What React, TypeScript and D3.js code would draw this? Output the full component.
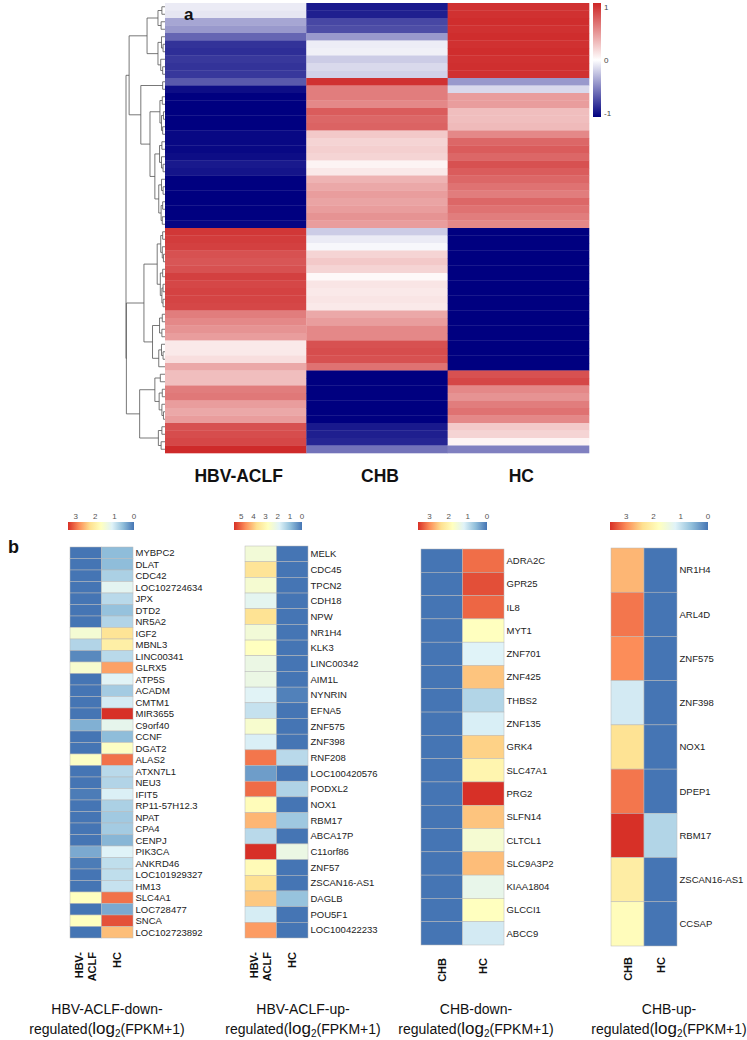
import React from 'react';
import * as d3 from 'd3';

// ---------- Panel a data (row z-scores) ----------
const groupsA = ['HBV-ACLF', 'CHB', 'HC'];
const hbvZ = [-0.08, -0.1, -0.35, -0.4, -0.6, -0.8, -0.82, -0.78, -0.8, -0.78,
  -0.65, -0.95, -1, -1, -1, -1, -1, -0.97, -0.97, -0.97,
  -0.95, -0.9, -0.92, -1, -1, -1, -1, -1, -1, -0.98,
  0.92, 0.9, 0.88, 0.8, 0.78, 0.8, 0.88, 0.85, 0.87, 0.86,
  0.85, 0.6, 0.55, 0.5, 0.45, 0.1, 0.1, 0.15, 0.4, 0.3,
  0.3, 0.6, 0.62, 0.45, 0.4, 0.45, 0.8, 0.82, 0.85, 0.98];
const chbZ = [-0.9, -0.88, -0.72, -0.7, -0.4, -0.07, -0.06, -0.2, -0.15, -0.18,
  0.95, 0.6, 0.6, 0.55, 0.75, 0.7, 0.72, 0.25, 0.2, 0.22,
  0.2, 0.05, 0.1, 0.35, 0.4, 0.45, 0.42, 0.45, 0.5, 0.45,
  -0.2, -0.08, -0.03, 0.2, 0.25, 0.2, 0.03, 0.12, 0.1, 0.12,
  0.1, 0.4, 0.45, 0.55, 0.55, 0.8, 0.82, 0.8, 0.65, -1,
  -1, -1, -1, -1, -1, -1, -0.9, -0.88, -0.85, -0.55];
const hcZ = [0.95, 0.95, 0.97, 0.95, 0.97, 0.95, 0.97, 0.95, 0.96, 0.95,
  -0.4, -0.15, 0.45, 0.45, 0.3, 0.3, 0.32, 0.55, 0.7, 0.75,
  0.7, 0.8, 0.75, 0.7, 0.65, 0.6, 0.7, 0.65, 0.6, 0.55,
  -1, -1, -1, -1, -1, -1, -1, -1, -1, -1,
  -1, -1, -1, -1, -1, -1, -1, -1, -1,
  0.8, 0.85, 0.55, 0.5, 0.6, 0.65, 0.55, 0.25, 0.2, 0.05, -0.5];
const colorbarTicks = [1, 0, -1];

// dendrogram: [height, left, right], leaves are row indices
type TNode = number | [number, TNode, TNode];
const dendro: TNode = [10,
  [9.2,
    [4.6,
      [1.8, [0.8, 0, 1], [1.0, 2, 3]],
      [1.8, [0.9, 4, [0.5, 5, 6]], [1.1, 7, [0.6, 8, 9]]]],
    [6.2,
      [0.6, 10, 11],
      [3.85,
        [1.3, [0.7, 12, 13], [0.9, [0.4, 14, 15], [0.6, 16, 17]]],
        [2.6, [1.4, [0.8, 18, 19], [0.9, 20, [0.5, 21, 22]]],
          [1.6, [0.9, 23, [0.5, 24, 25]], [1.0, [0.6, 26, 27], [0.7, 28, 29]]]]]]],
  [9.9,
    [5.4,
      [2.0, [1.1, [0.6, 30, 31], [0.7, 32, [0.4, 33, 34]]], [1.2, [0.6, 35, 36], [0.8, [0.5, 37, 38], [0.5, 39, 40]]]],
      [3.2, [1.4, [0.7, 41, 42], [0.8, 43, 44]], [1.6, [0.9, 45, [0.5, 46, 47]], 48]]],
    [6.5,
      [2.6, [1.2, 49, 50], [1.5, [0.7, 51, 52], [0.8, 53, [0.4, 54, 55]]]],
      [1.7, [0.8, 56, 57], [1.0, 58, 59]]]]];

// ---------- Panel b data (log2(FPKM+1)) ----------
const p1Genes = ['MYBPC2', 'DLAT', 'CDC42', 'LOC102724634', 'JPX', 'DTD2', 'NR5A2', 'IGF2', 'MBNL3', 'LINC00341', 'GLRX5', 'ATP5S', 'ACADM', 'CMTM1', 'MIR3655', 'C9orf40', 'CCNF', 'DGAT2', 'ALAS2', 'ATXN7L1', 'NEU3', 'IFIT5', 'RP11-57H12.3', 'NPAT', 'CPA4', 'CENPJ', 'PIK3CA', 'ANKRD46', 'LOC101929327', 'HM13', 'SLC4A1', 'LOC728477', 'SNCA', 'LOC102723892'];
const p1Aclf = [0, 0, 0, 0, 0, 0, 0, 1.5, 0.8, 0.15, 1.55, 0, 0, 0, 0, 0.45, 0, 0, 1.65, 0, 0, 0.05, 0, 0, 0, 0, 0.4, 0.05, 0, 0, 1.7, 0, 1.7, 0];
const p1Hc = [0.55, 0.55, 0.75, 1.2, 0.85, 0.6, 0.8, 2.2, 2.0, 0.85, 2.7, 1.15, 0.7, 1.05, 3.4, 1.25, 0.55, 1.65, 3.0, 0.85, 0.8, 1.1, 0.75, 0.68, 0.7, 0.5, 1.13, 0.9, 0.9, 0.95, 3.0, 0.4, 3.2, 2.5];
const p1Ticks = [3, 2, 1, 0];

const p2Genes = ['MELK', 'CDC45', 'TPCN2', 'CDH18', 'NPW', 'NR1H4', 'KLK3', 'LINC00342', 'AIM1L', 'NYNRIN', 'EFNA5', 'ZNF575', 'ZNF398', 'RNF208', 'LOC100420576', 'PODXL2', 'NOX1', 'RBM17', 'ABCA17P', 'C11orf86', 'ZNF57', 'ZSCAN16-AS1', 'DAGLB', 'POU5F1', 'LOC100422233'];
const p2Aclf = [2.4, 3.6, 2.5, 2.0, 3.65, 2.4, 2.8, 2.2, 2.2, 1.9, 1.55, 2.55, 1.8, 4.9, 0.5, 5.0, 2.9, 4.2, 1.4, 5.6, 2.95, 3.7, 4.0, 1.75, 4.5];
const p2Hc = [0, 0, 0, 0, 0, 0, 0, 0, 0, 0.15, 0, 0, 0, 1.4, 0, 1.3, 0, 1.1, 0, 2.2, 0, 0, 1.0, 0, 0];
const p2Ticks = [5, 4, 3, 2, 1, 0];

const p3Genes = ['ADRA2C', 'GPR25', 'IL8', 'MYT1', 'ZNF701', 'ZNF425', 'THBS2', 'ZNF135', 'GRK4', 'SLC47A1', 'PRG2', 'SLFN14', 'CLTCL1', 'SLC9A3P2', 'KIAA1804', 'GLCCI1', 'ABCC9'];
const p3Chb = [0, 0, 0, 0, 0, 0, 0, 0, 0, 0, 0, 0, 0, 0, 0, 0, 0];
const p3Hc = [3.2, 3.4, 3.25, 1.8, 1.2, 2.6, 0.85, 1.15, 2.5, 2.0, 3.6, 2.6, 1.6, 2.65, 1.35, 1.8, 1.1];
const p3Ticks = [3, 2, 1, 0];

const p4Genes = ['NR1H4', 'ARL4D', 'ZNF575', 'ZNF398', 'NOX1', 'DPEP1', 'RBM17', 'ZSCAN16-AS1', 'CCSAP'];
const p4Chb = [2.7, 3.15, 3.0, 1.1, 2.35, 3.15, 3.6, 2.15, 1.85];
const p4Hc = [0, 0, 0, 0, 0, 0, 0.85, 0, 0];
const p4Ticks = [3, 2, 1, 0];

const palette = ['#4575B4', '#91BFDB', '#E0F3F8', '#FFFFBF', '#FEE090', '#FC8D59', '#D73027'];
const FONT = '"Liberation Sans", Arial, Helvetica, sans-serif';

type Panel = {
  id: string; genes: string[]; cols: number[][]; colLabels: string[][]; max: number; ticks: number[];
  x0: number; x1: number; top: number; bottom: number; legX0: number; legX1: number;
  labelTop: number; title1: string; titleX: number;
};

const panels: Panel[] = [
  { id: 'p1', genes: p1Genes, cols: [p1Aclf, p1Hc], colLabels: [['HBV-', 'ACLF'], ['HC']], max: 3.4, ticks: p1Ticks,
    x0: 70, x1: 133, top: 547, bottom: 938, legX0: 68, legX1: 134, labelTop: 952, title1: 'HBV-ACLF-down-', titleX: 107 },
  { id: 'p2', genes: p2Genes, cols: [p2Aclf, p2Hc], colLabels: [['HBV-', 'ACLF'], ['HC']], max: 5.6, ticks: p2Ticks,
    x0: 245, x1: 308, top: 546, bottom: 938, legX0: 234, legX1: 302, labelTop: 952, title1: 'HBV-ACLF-up-', titleX: 303 },
  { id: 'p3', genes: p3Genes, cols: [p3Chb, p3Hc], colLabels: [['CHB'], ['HC']], max: 3.6, ticks: p3Ticks,
    x0: 421, x1: 504, top: 549, bottom: 945, legX0: 418, legX1: 487, labelTop: 958, title1: 'CHB-down-', titleX: 476 },
  { id: 'p4', genes: p4Genes, cols: [p4Chb, p4Hc], colLabels: [['CHB'], ['HC']], max: 3.6, ticks: p4Ticks,
    x0: 611, x1: 677, top: 548, bottom: 946, legX0: 610, legX1: 708, labelTop: 957, title1: 'CHB-up-', titleX: 669 },
];

function PanelB({ p }: { p: Panel }) {
  const x = d3.scaleBand<number>().domain(d3.range(p.cols.length)).range([p.x0, p.x1]);
  const y = d3.scaleBand<number>().domain(d3.range(p.genes.length)).range([p.top, p.bottom]);
  const color = d3.scaleLinear<string>().domain(palette.map((_, i) => (i * p.max) / (palette.length - 1))).range(palette).clamp(true);
  const leg = d3.scaleLinear().domain([p.max, 0]).range([p.legX0, p.legX1]);
  const gradId = 'grad-' + p.id;
  return (
    <g>
      <defs>
        <linearGradient id={gradId} x1="0" x2="1" y1="0" y2="0">
          {palette.map((c, i) => (
            <stop key={i} offset={`${(i / (palette.length - 1)) * 100}%`} stopColor={palette[palette.length - 1 - i]} />
          ))}
        </linearGradient>
      </defs>
      <rect x={p.legX0} y={522} width={p.legX1 - p.legX0} height={8} fill={`url(#${gradId})`} />
      {p.ticks.map((t) => (
        <text key={t} x={leg(t)} y={519} fontSize={8} fill="#555" textAnchor="middle" fontFamily={FONT}>{t}</text>
      ))}
      {p.cols.map((col, ci) =>
        col.map((v, ri) => (
          <rect key={`${ci}-${ri}`} x={x(ci)} y={y(ri)} width={x.bandwidth()} height={y.bandwidth()}
            fill={color(v)} stroke="#b8b8b8" strokeWidth={0.5} />
        ))
      )}
      {p.genes.map((g, ri) => (
        <text key={g + ri} x={p.x1 + 2.5} y={(y(ri) as number) + y.bandwidth() / 2} dy="0.35em" fontSize={9.5}
          fill="#222" fontFamily={FONT}>{g}</text>
      ))}
      {p.colLabels.map((lines, ci) => {
        const cx = (x(ci) as number) + x.bandwidth() / 2;
        return lines.map((ln, li) => {
          const off = (li - (lines.length - 1) / 2) * 13;
          const bx = cx + off + 4;
          return (
            <text key={`${ci}-${li}`} transform={`translate(${bx},${p.labelTop}) rotate(-90)`} textAnchor="end"
              fontSize={11} fontWeight="bold" fill="#111" fontFamily={FONT}>{ln}</text>
          );
        });
      })}
      <text x={p.titleX} y={1014} textAnchor="middle" fontSize={14} fill="#111" fontFamily={FONT}>{p.title1}</text>
      <text x={p.titleX} y={1034} textAnchor="middle" fontSize={14} fill="#111" fontFamily={FONT}>
        <tspan>regulated(</tspan>
        <tspan fontSize={17}>log</tspan>
        <tspan fontSize={10} dy={3}>2</tspan>
        <tspan dy={-3}>(FPKM+1)</tspan>
      </text>
    </g>
  );
}

export default function App() {
  const nRows = hbvZ.length;
  const cols = [hbvZ, chbZ, hcZ];
  const xA = d3.scaleBand<number>().domain(d3.range(3)).range([165, 589]);
  const yA = d3.scaleBand<number>().domain(d3.range(nRows)).range([3, 453]);
  const colorA = d3.scaleLinear<string>().domain([-1, 0, 1]).range(['#000080', '#ffffff', '#CD2626']).clamp(true);
  const xD = d3.scaleLinear().domain([0, 10]).range([165, 126]);
  const cbY = d3.scaleLinear().domain([-1.08, 1.08]).range([117, 3]);

  const segs: [number, number, number, number][] = [];
  const walk = (n: TNode): { y: number; h: number } => {
    if (typeof n === 'number') return { y: (yA(n) as number) + yA.bandwidth() / 2, h: 0 };
    const [h, a, b] = n;
    const A = walk(a);
    const B = walk(b);
    segs.push([xD(h), A.y, xD(h), B.y]);
    segs.push([xD(h), A.y, xD(A.h), A.y]);
    segs.push([xD(h), B.y, xD(B.h), B.y]);
    return { y: (A.y + B.y) / 2, h };
  };
  walk(dendro);

  return (
    <svg width={747} height={1040} style={{ position: 'absolute', left: 0, top: 0, background: '#fff' }}>
      <rect x={0} y={0} width={747} height={1040} fill="#fff" />
      {/* panel a */}
      {cols.map((col, ci) =>
        col.map((v, ri) => (
          <rect key={`a-${ci}-${ri}`} x={xA(ci)} y={yA(ri)} width={xA.bandwidth() + 0.3} height={yA.bandwidth() + 0.3}
            fill={colorA(v)} />
        ))
      )}
      {segs.map((s, i) => (
        <line key={i} x1={s[0]} y1={s[1]} x2={s[2]} y2={s[3]} stroke="#555" strokeWidth={0.8} />
      ))}
      <defs>
        <linearGradient id="cbA" x1="0" x2="0" y1="1" y2="0">
          <stop offset="0%" stopColor="#000080" />
          <stop offset="50%" stopColor="#ffffff" />
          <stop offset="100%" stopColor="#CD2626" />
        </linearGradient>
      </defs>
      <rect x={593} y={3} width={8} height={114} fill="url(#cbA)" />
      {colorbarTicks.map((t) => (
        <text key={t} x={604} y={cbY(t)} dy="0.35em" fontSize={8} fill="#444" fontFamily={FONT}>{t}</text>
      ))}
      {groupsA.map((g, i) => (
        <text key={g} x={(xA(i) as number) + xA.bandwidth() / 2 + 3} y={482} textAnchor="middle" fontSize={17.5}
          fontWeight="bold" fill="#111" fontFamily={FONT}>{g}</text>
      ))}
      <text x={184} y={20} fontSize={17} fontWeight="bold" fill="#111" fontFamily={FONT}>a</text>
      <text x={8} y={553} fontSize={18} fontWeight="bold" fill="#111" fontFamily={FONT}>b</text>
      {panels.map((p) => <PanelB key={p.id} p={p} />)}
    </svg>
  );
}
